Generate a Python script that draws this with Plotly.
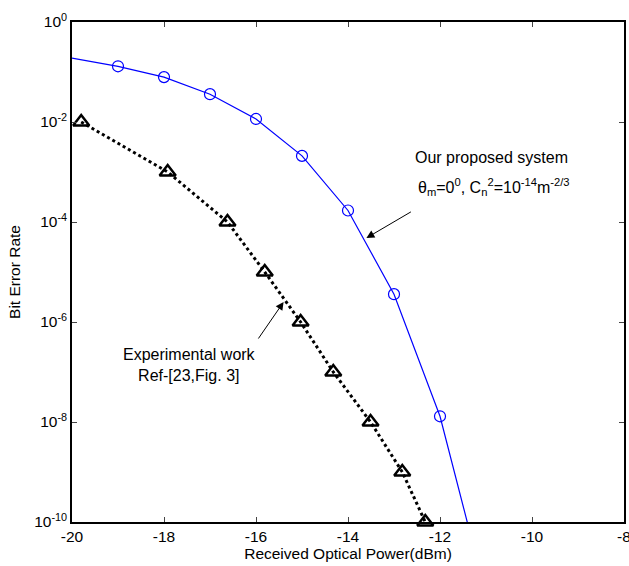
import plotly.graph_objects as go

# Our proposed system (theory curve)
prop_x = [-20, -19, -18, -17, -16, -15, -14, -13, -12, -11]
prop_ber = [0.19, 0.13, 0.079, 0.036, 0.0115, 0.0021, 1.7e-4, 3.6e-6, 1.3e-8, 3.5e-12]
prop_marker_x = [-19, -18, -17, -16, -15, -14, -13, -12]
prop_marker_ber = [0.13, 0.079, 0.036, 0.0115, 0.0021, 1.7e-4, 3.6e-6, 1.3e-8]

# Experimental work Ref-[23, Fig. 3]
exp_x = [-19.8, -17.92, -16.62, -15.81, -15.03, -14.32, -13.51, -12.82, -12.32]
exp_ber = [1e-2, 1e-3, 1e-4, 1e-5, 1e-6, 1e-7, 1e-8, 1e-9, 1e-10]

x_ticks = [-20, -18, -16, -14, -12, -10, -8]
x_ticktext = ["-20", "-18", "-16", "-14", "-12", "-10", "-8"]
y_tickvals = [1, 1e-2, 1e-4, 1e-6, 1e-8, 1e-10]
y_ticktext = ["10<sup>0</sup>", "10<sup>-2</sup>", "10<sup>-4</sup>", "10<sup>-6</sup>",
              "10<sup>-8</sup>", "10<sup>-10</sup>"]

FONT = "Liberation Sans, Arial, sans-serif"
FS = 15.5

fig = go.Figure()
fig.add_trace(go.Scatter(x=prop_x, y=prop_ber, mode="lines",
                         line=dict(color="#0000ff", width=1.2), showlegend=False))
fig.add_trace(go.Scatter(x=prop_marker_x, y=prop_marker_ber, mode="markers",
                         marker=dict(symbol="circle-open", size=11, color="#0000ff",
                                     line=dict(width=1.2, color="#0000ff")),
                         showlegend=False))
fig.add_trace(go.Scatter(x=exp_x, y=exp_ber, mode="lines+markers",
                         line=dict(color="black", width=3, dash="dot"),
                         marker=dict(symbol="triangle-up-open", size=14, color="black",
                                     line=dict(width=2.5, color="black")),
                         cliponaxis=False, showlegend=False))

fig.add_annotation(x=-10.89, y=-2.7, xref="x", yref="y", text="Our proposed system",
                   showarrow=False, font=dict(family=FONT, size=16, color="black"))
fig.add_annotation(x=-10.82, y=-3.3, xref="x", yref="y",
                   text="θ<sub>m</sub>=0<sup>0</sup>, C<sub>n</sub><sup>2</sup>=10<sup>-14</sup>m<sup>-2/3</sup>",
                   showarrow=False, font=dict(family=FONT, size=16, color="black"))
fig.add_annotation(x=-13.6, y=-4.32, xref="x", yref="y", ax=-12.6, ay=-3.78,
                   axref="x", ayref="y", text="", showarrow=True,
                   arrowhead=2, arrowsize=1.6, arrowwidth=1, arrowcolor="black")
fig.add_annotation(x=-17.44, y=-6.85, xref="x", yref="y",
                   text="Experimental work<br>Ref-[23,Fig. 3]",
                   showarrow=False, font=dict(family=FONT, size=16, color="black"))
fig.add_annotation(x=-15.40, y=-5.6, xref="x", yref="y", ax=-15.97, ay=-6.36,
                   axref="x", ayref="y", text="", showarrow=True,
                   arrowhead=2, arrowsize=1.6, arrowwidth=1, arrowcolor="black")

fig.update_layout(
    width=629, height=566,
    margin=dict(l=72, r=5, t=22, b=44),
    paper_bgcolor="white", plot_bgcolor="white",
    font=dict(family=FONT, size=FS, color="black"),
    xaxis=dict(range=[-20, -8], tickvals=x_ticks, ticktext=x_ticktext,
               ticks="inside", ticklen=5, ticklabeloverflow="allow", automargin=False,
               showline=True, linecolor="black", linewidth=1.5, mirror="ticks",
               showgrid=False, zeroline=False, tickfont=dict(size=FS),
               title=dict(text="Received Optical Power(dBm)", font=dict(size=FS), standoff=2)),
    yaxis=dict(type="log", range=[-10, 0], tickvals=y_tickvals, ticktext=y_ticktext,
               ticks="inside", ticklen=5, showline=True, linecolor="black", linewidth=1.5,
               mirror="ticks", showgrid=False, zeroline=False, tickfont=dict(size=FS),
               automargin=False,
               title=dict(text="Bit Error Rate", font=dict(size=FS), standoff=10)),
)

fig.write_html("out.html")
